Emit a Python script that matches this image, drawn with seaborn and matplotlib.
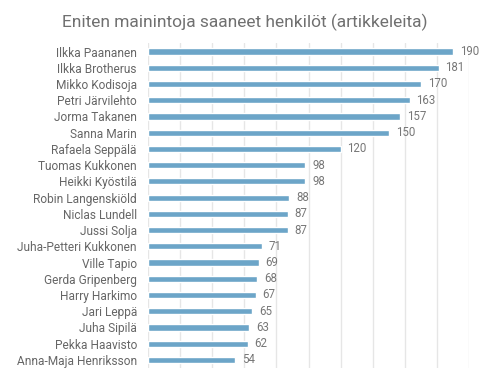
import matplotlib
matplotlib.use("Agg")
import matplotlib.pyplot as plt
import seaborn as sns
import pandas as pd

names = ["Ilkka Paananen", "Ilkka Brotherus", "Mikko Kodisoja", "Petri Järvilehto",
         "Jorma Takanen", "Sanna Marin", "Rafaela Seppälä", "Tuomas Kukkonen",
         "Heikki Kyöstilä", "Robin Langenskiöld", "Niclas Lundell", "Jussi Solja",
         "Juha-Petteri Kukkonen", "Ville Tapio", "Gerda Gripenberg", "Harry Harkimo",
         "Jari Leppä", "Juha Sipilä", "Pekka Haavisto", "Anna-Maja Henriksson"]
counts = [190, 181, 170, 163, 157, 150, 120, 98, 98, 88, 87, 87, 71, 69, 68, 67, 65, 63, 62, 54]
title = "Eniten mainintoja saaneet henkilöt (artikkeleita)"

df = pd.DataFrame({"name": names, "count": counts})

sns.set_theme(style="white")
plt.rcParams['font.family'] = ['Roboto', 'DejaVu Sans']

fig = plt.figure(figsize=(5.0, 3.86), dpi=100)
ax = fig.add_axes([148/500, 1-368/386, (469-148)/500, (368-43.4)/386])

sns.barplot(data=df, x="count", y="name", color="#6ca5c8", width=0.38,
            saturation=1, ax=ax, zorder=3)

ax.set_xlim(0, 200)
ax.set_xticks(range(0, 201, 20))
ax.xaxis.grid(True, color="#e6e6e6", linewidth=1, zorder=0)
ax.set_axisbelow(True)
ax.tick_params(axis="x", length=0, labelbottom=False)
ax.tick_params(axis="y", length=0, labelsize=8.6, labelcolor="#666666", pad=8)
ax.set_xlabel("")
ax.set_ylabel("")
for s in ax.spines.values():
    s.set_visible(False)

for i, v in enumerate(counts):
    ax.annotate(str(v), xy=(v, i), xytext=(5, 0), textcoords="offset points",
                va="center", ha="left", fontsize=8.3, color="#777777")

fig.text(0.49, 1-22/386, title, ha="center", va="center", fontsize=12.5, color="#707070")

fig.savefig("out.png", dpi=100)
